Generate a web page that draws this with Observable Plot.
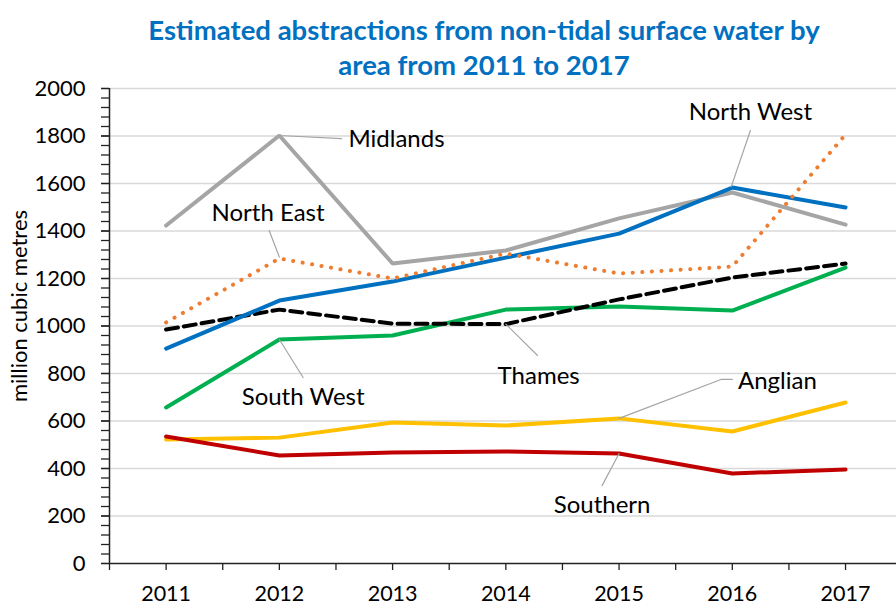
<!DOCTYPE html>
<html><head><meta charset="utf-8">
<script src="https://cdn.jsdelivr.net/npm/d3@7"></script>
<script src="https://cdn.jsdelivr.net/npm/@observablehq/plot@0.6"></script>
<style>
body{margin:0;background:#fff;font-family:Lato,sans-serif;}
#title{width:896px;height:64px;text-align:center;color:#0070C0;font-weight:bold;font-size:27.5px;line-height:35px;padding-top:12px;padding-left:72px;box-sizing:border-box;white-space:nowrap;overflow:visible}
#chart svg{display:block}
</style></head><body>
<div id="title">Estimated abstractions from non-tidal surface water by<br>area from 2011 to 2017</div>
<div id="chart"></div>
<script>
const years = [2011, 2012, 2013, 2014, 2015, 2016, 2017];
const yTicks = [0, 200, 400, 600, 800, 1000, 1200, 1400, 1600, 1800, 2000];
const midlands  = [1423, 1802, 1263, 1318, 1453, 1562, 1427];
const northWest = [905, 1107, 1187, 1288, 1389, 1583, 1499];
const northEast = [1015, 1284, 1200, 1305, 1221, 1250, 1806];
const thames    = [985, 1069, 1010, 1008, 1112, 1204, 1263];
const southWest = [657, 943, 960, 1069, 1082, 1065, 1246];
const anglian   = [522, 530, 594, 581, 611, 556, 678];
const southern  = [535, 455, 467, 472, 463, 379, 396];

const seriesNames = ["Anglian", "Southern", "South West", "Thames", "Midlands", "North West", "North East"];
const seriesValues = {"Midlands": midlands, "North West": northWest, "North East": northEast, "Thames": thames,
  "South West": southWest, "Anglian": anglian, "Southern": southern};

// label placement (data units)
const labelNames = ["Midlands", "North East", "North West", "South West", "Thames", "Anglian", "Southern"];
const labelX = [2012.61, 2011.9, 2016.16, 2012.21, 2014.29, 2016.05, 2014.85];
const labelY = [1785, 1474, 1899, 699, 787, 766, 244];
const labelStart = ["Midlands", "Anglian"];
// leader polylines (data units)
const leaderPts = [
  ["Midlands", 2012, 1802], ["Midlands", 2012.55, 1789],
  ["North East", 2011.91, 1402], ["North East", 2012.0, 1290],
  ["North West", 2016.16, 1823], ["North West", 2015.99, 1586],
  ["South West", 2012, 943], ["South West", 2012.21, 783],
  ["Thames", 2014, 1008], ["Thames", 2014.28, 876],
  ["Anglian", 2015, 611], ["Anglian", 2015.9, 775], ["Anglian", 2016.0, 775],
  ["Southern", 2015, 463], ["Southern", 2014.85, 328]
];

const styles = {
  "Midlands":  {stroke: "#A5A5A5", strokeWidth: 4},
  "North West":{stroke: "#0070C0", strokeWidth: 4},
  "North East":{stroke: "#ED7D31", strokeWidth: 4, strokeDasharray: "0.1 9.5", strokeLinecap: "round"},
  "Thames":    {stroke: "#000000", strokeWidth: 4, strokeDasharray: "12 6"},
  "South West":{stroke: "#00B050", strokeWidth: 4},
  "Anglian":   {stroke: "#FFC000", strokeWidth: 4},
  "Southern":  {stroke: "#C00000", strokeWidth: 4}
};

const rows = seriesNames.flatMap(name => years.map((yr, i) => ({series: name, year: yr, value: seriesValues[name][i]})));
const labels = labelNames.map((n, i) => ({text: n, x: labelX[i], y: labelY[i]}));
const leaders = leaderPts.map(([n, x, y]) => ({n, x, y}));
const bounds = years.map(y => y - 0.5);
const minor = d3.range(0, 2001, 40);

const lineMarks = seriesNames.map(name => Plot.line(rows.filter(d => d.series === name), {
  x: "year", y: "value", strokeLinejoin: "miter", ...styles[name]
}));

const axisStyle = {stroke: "#222", strokeWidth: 1.3};
const chart = Plot.plot({
  width: 896,
  height: 542,
  marginLeft: 109,
  marginRight: 0,
  marginTop: 24,
  marginBottom: 43,
  style: {fontFamily: "Lato, sans-serif", color: "#000", background: "#fff", overflow: "visible"},
  x: {type: "linear", domain: [2010.5, 2017.45]},
  y: {domain: [0, 2000]},
  marks: [
    Plot.gridY(yTicks.filter(d => d > 0), {stroke: "#d9d9d9", strokeOpacity: 1, strokeWidth: 1.3}),
    Plot.axisY(yTicks, {tickSize: 8, tickPadding: 16, fontSize: 22, tickFormat: d => String(d), label: null, ...axisStyle}),
    Plot.axisY(minor, {tickSize: 8, tickFormat: () => "", label: null, ...axisStyle}),
    Plot.axisX(years, {tickSize: 7, tickPadding: 15, fontSize: 21.5, tickFormat: d => String(d), label: null, ...axisStyle}),
    Plot.axisX(bounds, {tickSize: 7, tickFormat: () => "", label: null, ...axisStyle}),
    Plot.ruleY([0], {stroke: "#222", strokeWidth: 1.5}),
    Plot.ruleX([bounds[0]], {stroke: "#222", strokeWidth: 1.5}),
    ...lineMarks,
    Plot.line(leaders, {x: "x", y: "y", z: "n", stroke: "#A5A5A5", strokeWidth: 1.2}),
    Plot.text(labels.filter(d => !labelStart.includes(d.text)), {x: "x", y: "y", text: "text", textAnchor: "middle", fontSize: 24, fill: "#000"}),
    Plot.text(labels.filter(d => labelStart.includes(d.text)), {x: "x", y: "y", text: "text", textAnchor: "start", fontSize: 24, fill: "#000"}),
    Plot.text(["million cubic metres"], {frameAnchor: "left", textAnchor: "middle", rotate: -90, dx: -90, dy: -20, fontSize: 22, fill: "#000"})
  ]
});
document.getElementById("chart").append(chart);
</script>
</body></html>
